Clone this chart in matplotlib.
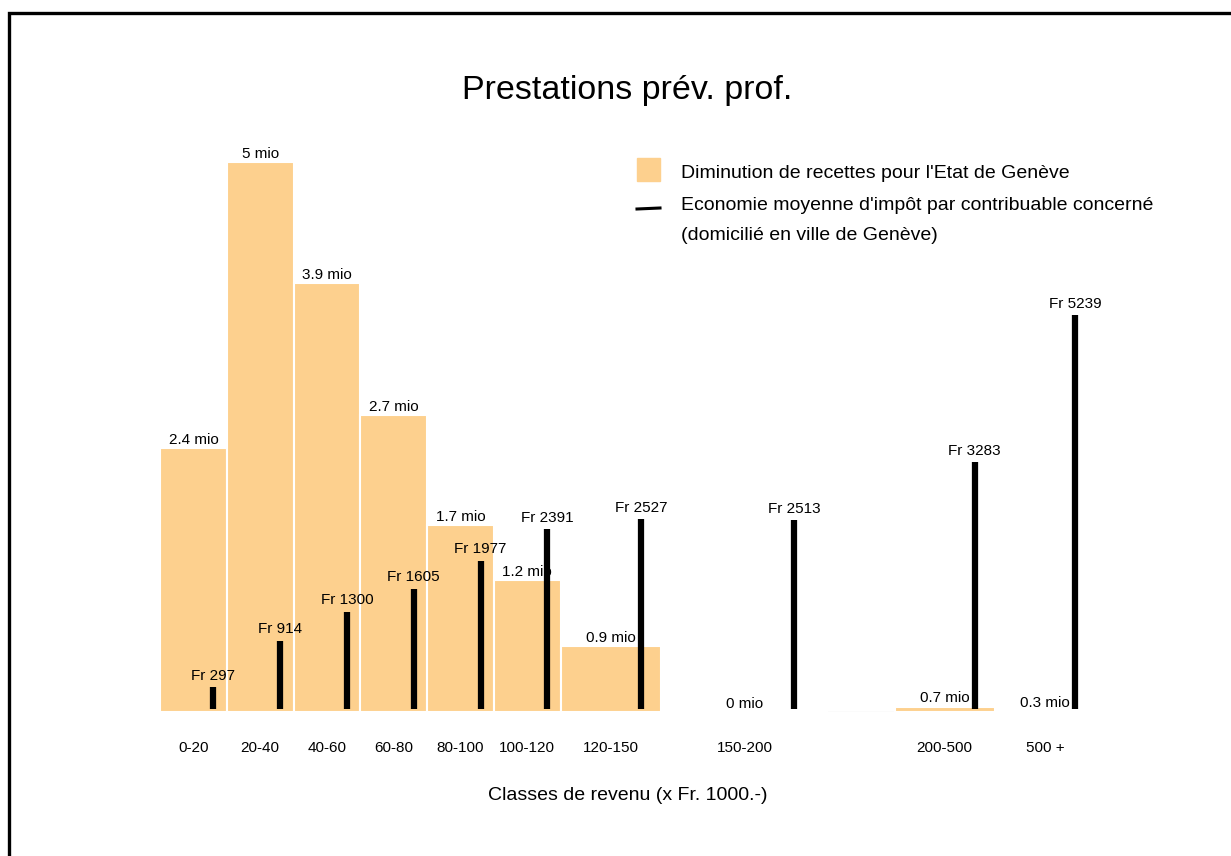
import matplotlib.pyplot as plt
from matplotlib.patches import Rectangle
from matplotlib.lines import Line2D

plt.rcParams['font.family'] = ['Liberation Sans', 'DejaVu Sans']

# Income classes (x Fr. 1000.-)
classes = ['0-20', '20-40', '40-60', '60-80', '80-100', '100-120',
           '120-150', '150-200', '200-500', '500 +']
class_low = [0, 20, 40, 60, 80, 100, 120, 150, 200, 500]
class_high = [20, 40, 60, 80, 100, 120, 150, 200, 500, 2000]  # last one open

# Revenue loss for the canton (mio Fr)
pertes_mio = [2.4, 5, 3.9, 2.7, 1.7, 1.2, 0.9, 0, 0.7, 0.3]
# Average tax saving per taxpayer (Fr)
economie_fr = [297, 914, 1300, 1605, 1977, 2391, 2527, 2513, 3283, 5239]

BAR_COLOR = '#fdd08e'

# layout of the classes along the axis: high classes are compressed
disp_width = [20, 20, 20, 20, 20, 20, 30, 50, 30, 30]
disp_gap = [0, 0, 0, 0, 0, 0, 0, 0, 20, 0]
lefts = []
pos = 0
for w, g in zip(disp_width, disp_gap):
    pos += g
    lefts.append(pos)
    pos += w
centers = [l + w / 2 for l, w in zip(lefts, disp_width)]
line_x = [l + 0.8 * w for l, w in zip(lefts, disp_width)]

# bar height = loss per 20k of income range
heights = [v * 20 / (hi - lo) for v, lo, hi in zip(pertes_mio, class_low, class_high)]

fig = plt.figure(figsize=(12.31, 8.56), dpi=100)
ax = fig.add_axes([160 / 1231, 144 / 856, 935 / 1231, 572 / 856])

ax.bar(lefts, heights, width=disp_width, align='edge', color=BAR_COLOR,
       edgecolor='white', linewidth=1.5, zorder=2)
ax.axhline(0, color='#ececec', linewidth=1, zorder=1)
for c, h, v in zip(centers, heights, pertes_mio):
    ax.annotate(f'{v:g} mio', (c, h), xytext=(0, 1), textcoords='offset points',
                ha='center', va='bottom', fontsize=11)

ax.set_xlim(0, 280)
ax.set_ylim(0, 572 / 110)
ax.set_xticks(centers, classes, fontsize=11)
ax.tick_params(axis='x', length=0, pad=21)
ax.set_yticks([])
ax.set_xlabel('Classes de revenu (x Fr. 1000.-)', fontsize=14, labelpad=23)
for s in ax.spines.values():
    s.set_visible(False)

ax2 = ax.twinx()
ax2.vlines(line_x, 0, economie_fr, color='black', linewidth=4.5, zorder=3)
for x, v in zip(line_x, economie_fr):
    ax2.annotate(f'Fr {v}', (x, v), xytext=(0, 3), textcoords='offset points',
                 ha='center', va='bottom', fontsize=11)
ax2.set_ylim(-34.5, -34.5 + 572 / 0.07527)
ax2.set_yticks([])
for s in ax2.spines.values():
    s.set_visible(False)

fig.text(627 / 1231, 1 - 90 / 856, 'Prestations prév. prof.', fontsize=24.5,
         ha='center', va='center')

# legend
fig.patches.append(Rectangle((637 / 1231, 1 - 181 / 856), 23 / 1231, 23 / 856,
                             transform=fig.transFigure, color=BAR_COLOR))
fig.lines.append(Line2D([637 / 1231, 660 / 1231], [1 - 209 / 856, 1 - 208 / 856],
                        transform=fig.transFigure, color='black', linewidth=2.2))
fig.text(681 / 1231, 1 - 173 / 856, "Diminution de recettes pour l'Etat de Genève",
         fontsize=14, va='center')
fig.text(681 / 1231, 1 - 206 / 856, "Economie moyenne d'impôt par contribuable concerné",
         fontsize=14, va='center')
fig.text(681 / 1231, 1 - 236 / 856, '(domicilié en ville de Genève)',
         fontsize=14, va='center')

# outer frame (runs off the right and bottom edges)
fig.patches.append(Rectangle((9 / 1231, -0.05), 1.1, 1 - 13 / 856 + 0.05,
                             transform=fig.transFigure, fill=False,
                             edgecolor='black', linewidth=2.4))

fig.savefig('out.png', dpi=100)
